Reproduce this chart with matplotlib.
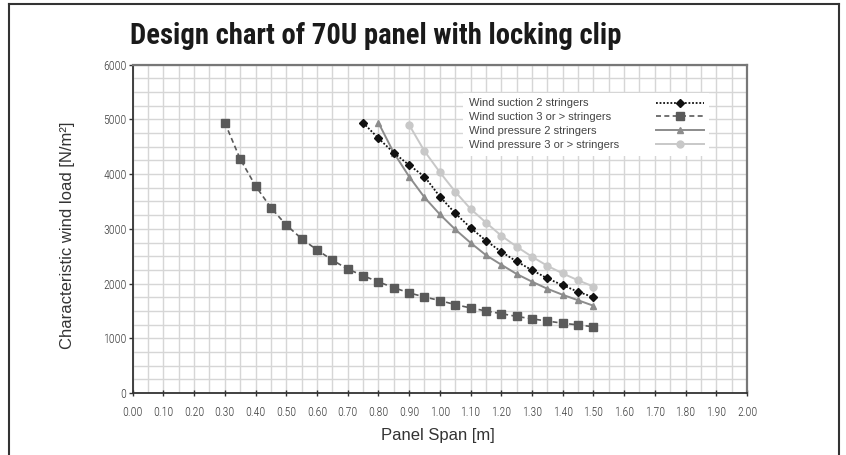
import matplotlib
matplotlib.use("Agg")
import matplotlib.pyplot as plt
from matplotlib import font_manager as fm
from matplotlib.lines import Line2D
from matplotlib.ticker import MultipleLocator, FormatStrFormatter

# data
x_suction_2 = [0.75, 0.80, 0.85, 0.90, 0.95, 1.00, 1.05, 1.10, 1.15, 1.20,
               1.25, 1.30, 1.35, 1.40, 1.45, 1.50]
suction_2 = [4940, 4655, 4390, 4165, 3955, 3590, 3285, 3020, 2785, 2580,
             2405, 2245, 2095, 1970, 1850, 1750]

x_suction_3 = [0.30, 0.35, 0.40, 0.45, 0.50, 0.55, 0.60, 0.65, 0.70, 0.75,
               0.80, 0.85, 0.90, 0.95, 1.00, 1.05, 1.10, 1.15, 1.20, 1.25,
               1.30, 1.35, 1.40, 1.45, 1.50]
suction_3 = [4940, 4275, 3785, 3385, 3070, 2820, 2615, 2430, 2265, 2145,
             2030, 1925, 1830, 1755, 1690, 1615, 1555, 1500, 1450, 1400,
             1355, 1315, 1275, 1245, 1210]

x_pressure_2 = [0.80, 0.85, 0.90, 0.95, 1.00, 1.05, 1.10, 1.15, 1.20, 1.25,
                1.30, 1.35, 1.40, 1.45, 1.50]
pressure_2 = [4940, 4390, 3955, 3575, 3265, 2990, 2745, 2520, 2345, 2175,
              2035, 1905, 1795, 1695, 1595]

x_pressure_3 = [0.90, 0.95, 1.00, 1.05, 1.10, 1.15, 1.20, 1.25, 1.30, 1.35,
                1.40, 1.45, 1.50]
pressure_3 = [4900, 4420, 4035, 3680, 3365, 3115, 2875, 2675, 2490, 2325,
              2185, 2060, 1945]

labels = ["Wind suction 2 stringers", "Wind suction 3 or > stringers",
          "Wind pressure 2 stringers", "Wind pressure 3 or > stringers"]

# pick a narrow face if one is installed
names = {f.name for f in fm.fontManager.ttflist}
narrow = next((n for n in ["Roboto Condensed", "Liberation Sans Narrow",
                           "Archivo Narrow"] if n in names), "Roboto")
sans = "Liberation Sans"

W, H = 846, 455
fig = plt.figure(figsize=(W / 100, H / 100), dpi=100)
ax = fig.add_axes([132.7 / W, 1 - 393 / H, (747 - 132.7) / W, (393 - 64.7) / H])

ax.plot(x_suction_2, suction_2, color="#111111", ls=(0, (1, 1)), lw=1.3,
        marker="D", ms=4, label=labels[0], zorder=5)
ax.plot(x_suction_3, suction_3, color="#5a5a5a", ls=(0, (3, 2)), lw=1.2,
        marker="s", ms=5.5, label=labels[1], zorder=4)
ax.plot(x_pressure_2, pressure_2, color="#8c8c8c", ls="-", lw=1.4,
        marker="^", ms=5, label=labels[2], zorder=3)
ax.plot(x_pressure_3, pressure_3, color="#c8c8c8", ls="-", lw=1.4,
        marker="o", ms=5, label=labels[3], zorder=2)

ax.set_xlim(0, 2.0)
ax.set_ylim(0, 6000)
ax.xaxis.set_major_locator(MultipleLocator(0.1))
ax.xaxis.set_minor_locator(MultipleLocator(0.05))
ax.yaxis.set_major_locator(MultipleLocator(1000))
ax.yaxis.set_minor_locator(MultipleLocator(250))
ax.xaxis.set_major_formatter(FormatStrFormatter("%.2f"))
ax.grid(True, which="both", color="#d6d6d6", lw=1.0, zorder=0)
ax.set_axisbelow(True)

ax.tick_params(axis="x", which="major", direction="inout", length=4,
               width=1, color="#333333", pad=7.5, labelsize=8.5,
               labelcolor="#3a3a3a")
ax.tick_params(axis="y", which="major", direction="out", length=3,
               width=1, color="#333333", pad=1.5, labelsize=8.5,
               labelcolor="#3a3a3a")
ax.tick_params(which="minor", length=0)
for lab in ax.get_xticklabels() + ax.get_yticklabels():
    lab.set_fontfamily(narrow)
    lab.set_fontweight("light")

for side in ["left", "bottom"]:
    ax.spines[side].set_color("#333333")
    ax.spines[side].set_linewidth(1.3)
for side in ["top", "right"]:
    ax.spines[side].set_color("#777777")
    ax.spines[side].set_linewidth(1.6)

ax.set_xlabel("Panel Span [m]", fontsize=12, family=sans, color="#333333")
ax.set_ylabel("Characteristic wind load [N/m²]", fontsize=12, family=sans,
              color="#333333")
ax.xaxis.set_label_coords(0.496, -0.107)
ax.yaxis.set_label_coords(-0.094, 0.48)

leg = ax.legend(loc="upper left", bbox_to_anchor=(0.538, 0.914),
                borderaxespad=0, markerfirst=False,
                prop={"family": sans, "size": 8}, frameon=True,
                fancybox=False, handlelength=4.3, handletextpad=1.4,
                labelspacing=0.35, borderpad=0.5, numpoints=1)
leg.get_frame().set_facecolor("white")
leg.get_frame().set_edgecolor("none")
leg.get_frame().set_alpha(1)
for t in leg.get_texts():
    t.set_color("#444444")
# texts flush left, handles flush right
for col in leg._legend_handle_box.get_children():
    for item in col.get_children():
        item.mode = "expand"
        item.width = 235

fig.text(130 / W, 1 - 36 / H, "Design chart of 70U panel with locking clip",
         fontsize=20.6, fontweight="bold", family=narrow,
         color="#1a1a1a", ha="left", va="center")

# outer frame around the chart
fx0, fx1, fy0 = 9 / W, 839 / W, 1 - 4 / H
for xs, ys in [([fx0, fx0], [0, fy0]), ([fx1, fx1], [0, fy0]),
               ([fx0, fx1], [fy0, fy0])]:
    fig.add_artist(Line2D(xs, ys, color="#333333", lw=1.5))

fig.savefig("out.png", dpi=100)
